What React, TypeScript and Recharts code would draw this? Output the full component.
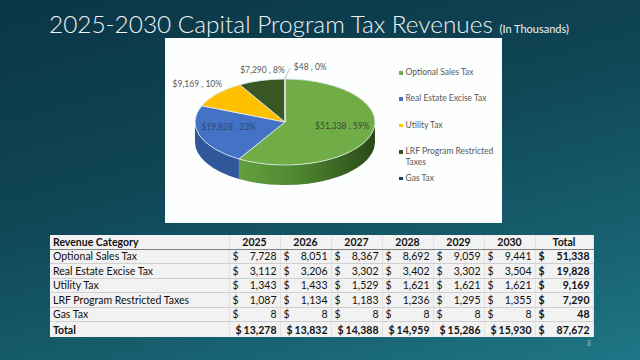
import { PieChart, Pie, Cell, Legend } from "recharts";

const categories = [
  "Optional Sales Tax",
  "Real Estate Excise Tax",
  "Utility Tax",
  "LRF Program Restricted Taxes",
  "Gas Tax",
];
const years = ["2025", "2026", "2027", "2028", "2029", "2030"];
const optionalSales = [7728, 8051, 8367, 8692, 9059, 9441];
const realEstate = [3112, 3206, 3302, 3402, 3302, 3504];
const utility = [1343, 1433, 1529, 1621, 1621, 1621];
const lrfRestricted = [1087, 1134, 1183, 1236, 1295, 1355];
const gasTax = [8, 8, 8, 8, 8, 8];
const yearTotals = [13278, 13832, 14388, 14959, 15286, 15930];
const categoryTotals = [51338, 19828, 9169, 7290, 48];
const grandTotal = 87672;

const sliceColors = ["#70ad47", "#4472c4", "#ffc000", "#385723", "#203864"];
const wallColors = ["url(#greenWall)", "#30579a", "#c79600", "#283f19", "#15264a"];

const rows = [optionalSales, realEstate, utility, lrfRestricted, gasTax];
const pieData = categories.map((name, i) => ({ name, value: categoryTotals[i] }));

const TILT = 0.478;
const DEPTH = 20;
const FONT = "Lato, 'Open Sans', sans-serif";

function fmt(n: number) {
  return n.toLocaleString("en-US");
}

function pt(cx: number, cy: number, rx: number, ry: number, a: number) {
  const r = (a * Math.PI) / 180;
  return [cx + rx * Math.cos(r), cy - ry * Math.sin(r)];
}

// flat pie sector squashed into an ellipse, plus a side wall on the front half
function Slice3D(props: any) {
  const { cx, cy, outerRadius, startAngle, endAngle, fill, index } = props;
  const rx = outerRadius;
  const ry = outerRadius * TILT;
  const lo = Math.min(startAngle, endAngle);
  const hi = Math.max(startAngle, endAngle);
  const large = hi - lo > 180 ? 1 : 0;
  const s = pt(cx, cy, rx, ry, hi);
  const e = pt(cx, cy, rx, ry, lo);
  const top = `M${cx},${cy} L${s[0]},${s[1]} A${rx},${ry} 0 ${large} 1 ${e[0]},${e[1]} Z`;

  const walls: string[] = [];
  [[-180, 0], [180, 360], [-540, -360]].forEach(([w0, w1]) => {
    const a0 = Math.min(hi, w1);
    const a1 = Math.max(lo, w0);
    if (a0 > a1) {
      const p0 = pt(cx, cy, rx, ry, a0);
      const p1 = pt(cx, cy, rx, ry, a1);
      walls.push(
        `M${p0[0]},${p0[1]} A${rx},${ry} 0 0 1 ${p1[0]},${p1[1]} L${p1[0]},${p1[1] + DEPTH} A${rx},${ry} 0 0 0 ${p0[0]},${p0[1] + DEPTH} Z`
      );
    }
  });

  return (
    <g>
      {index === 0 && (
        <defs>
          <linearGradient id="greenWall" x1="0" y1="0" x2="1" y2="0">
            <stop offset="0%" stopColor="#64a03e" />
            <stop offset="45%" stopColor="#4d8530" />
            <stop offset="100%" stopColor="#2a4818" />
          </linearGradient>
        </defs>
      )}
      {walls.map((d, i) => (
        <path key={i} d={d} fill={wallColors[index]} stroke="none" />
      ))}
      <path d={top} fill={fill} stroke="#e4ecf4" strokeWidth={0.8} />
    </g>
  );
}

function renderLabel(props: any) {
  const { cx, cy, midAngle, outerRadius, index, value, percent } = props;
  const rx = outerRadius;
  const ry = outerRadius * TILT;
  const text = `$${fmt(value)} , ${Math.round(percent * 100)}%`;
  const rad = (midAngle * Math.PI) / 180;
  const style = { fontFamily: FONT, fontSize: 8.5 };
  if (index < 2) {
    const x = cx + rx * 0.66 * Math.cos(rad);
    const y = cy - ry * 0.66 * Math.sin(rad) - 4;
    return (
      <text x={x} y={y} textAnchor="middle" dominantBaseline="central"
        fill={index === 0 ? "#3a4a30" : "#2c4778"} style={style}>
        {text}
      </text>
    );
  }
  const [ex, ey] = pt(cx, cy, rx, ry, midAngle);
  if (Math.abs(Math.cos(rad)) < 0.05) {
    return (
      <g>
        <line x1={ex} y1={ey} x2={ex + 5} y2={ey - 11} stroke="#a6a6a6" strokeWidth={0.7} />
        <text x={ex + 9} y={ey - 12} textAnchor="start" dominantBaseline="central"
          fill="#595959" style={style}>
          {text}
        </text>
      </g>
    );
  }
  const left = Math.cos(rad) < -0.5;
  return (
    <text x={left ? ex + 5 : ex + 1} y={ey - 10} textAnchor={left ? "end" : "middle"}
      dominantBaseline="central" fill="#595959" style={style}>
      {text}
    </text>
  );
}

function renderLegend() {
  return (
    <div style={{ fontFamily: FONT, fontSize: 8.5, color: "#595959" }}>
      {categories.map((c, i) => (
        <div key={c} style={{ display: "flex", alignItems: "flex-start", height: 26.4, lineHeight: "11px" }}>
          <div style={{ width: 3.5, height: 3.5, background: sliceColors[i], marginTop: 4, marginRight: 3, flex: "none" }} />
          <div style={{ width: 92 }}>{c}</div>
        </div>
      ))}
    </div>
  );
}

const cellBase: any = {
  height: 13.5,
  lineHeight: "12px",
  padding: "0 3px",
  borderBottom: "1px solid #cfcfcf",
  borderRight: "1px solid #e2e2e2",
  whiteSpace: "nowrap",
  overflow: "hidden",
};

function Money({ v, bold, tight }: { v: number; bold?: boolean; tight?: boolean }) {
  return (
    <div style={{ display: "flex", justifyContent: tight ? "flex-end" : "space-between", fontWeight: bold ? 700 : 400 }}>
      <span style={{ marginRight: tight ? 2 : 0 }}>$</span>
      <span>{fmt(v)}</span>
    </div>
  );
}

export default function App() {
  return (
    <div
      style={{
        position: "absolute",
        left: 0,
        top: 0,
        width: 640,
        height: 360,
        overflow: "hidden",
        fontFamily: FONT,
        background: "linear-gradient(165deg, #0b3545 0%, #0f4555 40%, #17606f 75%, #1f7686 100%)",
      }}
    >
      <div style={{ position: "absolute", left: 49, top: 12, fontSize: 24.4, lineHeight: "24px", fontWeight: 300, color: "#eef3f5", whiteSpace: "nowrap" }}>
        2025-2030 Capital Program Tax Revenues{" "}
        <span style={{ fontSize: 11, fontWeight: 400 }}>(In Thousands)</span>
      </div>

      <div style={{ position: "absolute", left: 165, top: 38, width: 337, height: 185, background: "#fdfefe" }}>
        <PieChart width={337} height={185}>
          <Pie
            data={pieData}
            dataKey="value"
            nameKey="name"
            cx={115}
            cy={79}
            outerRadius={90}
            startAngle={90}
            endAngle={-270}
            shape={Slice3D}
            activeShape={Slice3D}
            inactiveShape={Slice3D}
            label={renderLabel}
            labelLine={false}
            isAnimationActive={false}
          >
            {pieData.map((d, i) => (
              <Cell key={d.name} fill={sliceColors[i]} />
            ))}
          </Pie>
          <Legend
            content={renderLegend}
            wrapperStyle={{ position: "absolute", left: 234, top: 29, width: 100, height: 140 }}
          />
        </PieChart>
      </div>

      <table
        style={{
          position: "absolute",
          left: 50,
          top: 235,
          width: 543,
          borderCollapse: "collapse",
          background: "#f2f2f2",
          fontSize: 10.5,
          color: "#111",
          tableLayout: "fixed",
        }}
      >
        <colgroup>
          <col style={{ width: 179 }} />
          {years.map((y) => (
            <col key={y} style={{ width: 51 }} />
          ))}
          <col style={{ width: 58 }} />
        </colgroup>
        <thead>
          <tr>
            <th style={{ ...cellBase, textAlign: "left", borderBottom: "1px solid #808080" }}>Revenue Category</th>
            {years.map((y) => (
              <th key={y} style={{ ...cellBase, textAlign: "center", borderBottom: "1px solid #808080" }}>{y}</th>
            ))}
            <th style={{ ...cellBase, textAlign: "center", borderBottom: "1px solid #808080", borderLeft: "1px solid #404040" }}>Total</th>
          </tr>
        </thead>
        <tbody>
          {rows.map((r, i) => (
            <tr key={categories[i]}>
              <td style={{ ...cellBase, textAlign: "left" }}>{categories[i]}</td>
              {r.map((v, j) => (
                <td key={j} style={cellBase}>
                  <Money v={v} />
                </td>
              ))}
              <td style={{ ...cellBase, borderLeft: "1px solid #404040" }}>
                <Money v={categoryTotals[i]} bold />
              </td>
            </tr>
          ))}
          <tr>
            <td style={{ ...cellBase, height: 15, fontWeight: 700, borderTop: "1px solid #404040", borderBottom: "none" }}>Total</td>
            {yearTotals.map((v, j) => (
              <td key={j} style={{ ...cellBase, height: 15, borderTop: "1px solid #404040", borderBottom: "none" }}>
                <Money v={v} bold tight />
              </td>
            ))}
            <td style={{ ...cellBase, height: 15, borderTop: "1px solid #404040", borderBottom: "none", borderLeft: "1px solid #404040" }}>
              <Money v={grandTotal} bold />
            </td>
          </tr>
        </tbody>
      </table>

      <div style={{ position: "absolute", left: 587, top: 339, fontSize: 7, color: "#8fbccb" }}>8</div>
    </div>
  );
}
